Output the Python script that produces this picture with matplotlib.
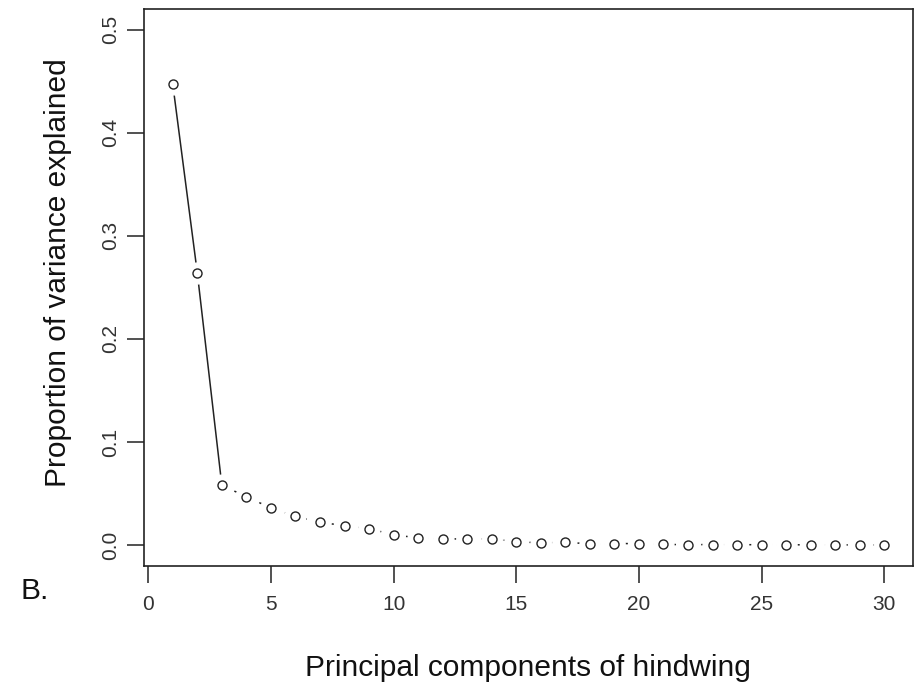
import matplotlib.pyplot as plt

plt.rcParams['font.family'] = ['Liberation Sans', 'DejaVu Sans']

components = list(range(1, 31))
variance = [0.447, 0.264, 0.058, 0.047, 0.036, 0.028, 0.022, 0.019, 0.016, 0.010,
            0.007, 0.006, 0.006, 0.006, 0.0035, 0.002, 0.003, 0.001, 0.0015, 0.0015,
            0.0006, 0.0005, 0.0005, 0.0004, 0.0004, 0.0003, 0.0003, 0.0002, 0.0002, 0.0001]
x_ticks = [0, 5, 10, 15, 20, 25, 30]
y_ticks = [0.0, 0.1, 0.2, 0.3, 0.4, 0.5]

fig = plt.figure(figsize=(9.21, 6.84), dpi=100)
ax = fig.add_axes([0.1567, 0.1729, 0.8343, 0.8139])

ink = '#222222'
# solid drop for first three components, dotted tail after
ax.plot(components[:3], variance[:3], color=ink, lw=1.1, zorder=1)
ax.plot(components[2:], variance[2:], color=ink, lw=1.1, ls=(0, (1.5, 3)), zorder=1)
# white halo so the line stops short of each point (R type="b")
ax.plot(components, variance, ls='none', marker='o', ms=15, mfc='white',
        mec='white', zorder=2)
ax.plot(components, variance, ls='none', marker='o', ms=6.5, mfc='white',
        mec=ink, mew=1.0, zorder=3)

ax.set_xlim(-0.16, 31.16)
ax.set_ylim(-0.02, 0.52)
ax.set_xticks(x_ticks)
ax.set_yticks(y_ticks)
ax.set_yticklabels([f'{v:.1f}' for v in y_ticks], rotation=90, va='center')

for s in ax.spines.values():
    s.set_color(ink)
    s.set_linewidth(1.2)
ax.tick_params(axis='both', length=12, width=1.1, color=ink, labelcolor='#333333',
               labelsize=15)
ax.tick_params(axis='x', pad=9)
ax.tick_params(axis='y', pad=5.5)

fig.text(0.573, 0.024, 'Principal components of hindwing', ha='center', va='center',
         fontsize=21.5, color='#111111')
fig.text(0.063, 0.602, 'Proportion of variance explained', ha='center', va='center',
         rotation=90, fontsize=21.5, color='#111111')
fig.text(0.0225, 0.136, 'B.', ha='left', va='center', fontsize=21.5, color='#111111')

fig.savefig('out.png', dpi=100)
